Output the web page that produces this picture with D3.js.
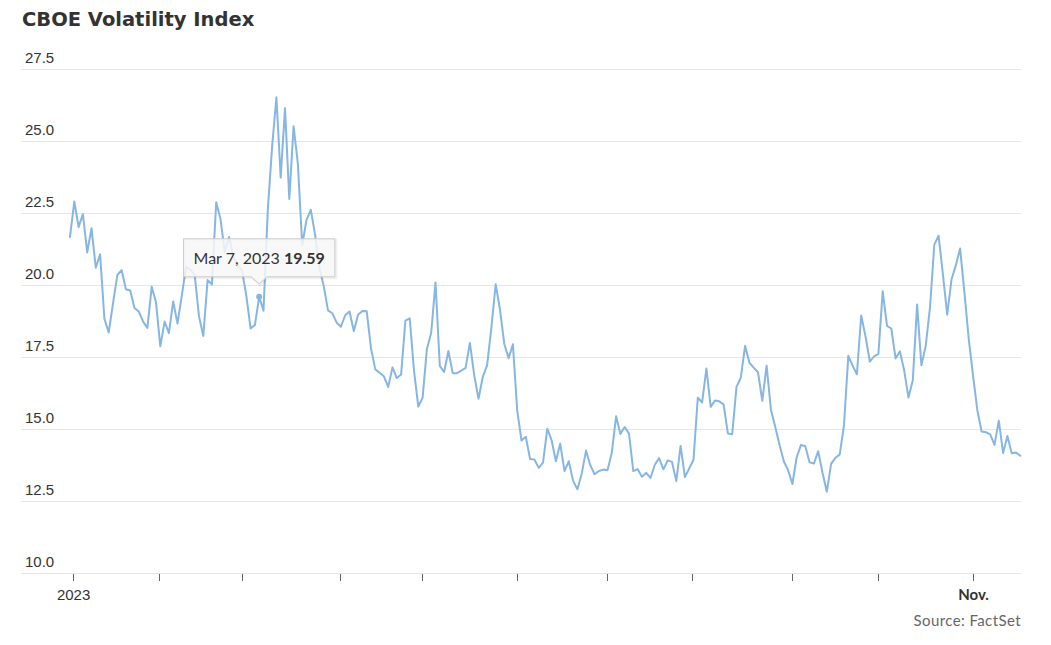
<!DOCTYPE html>
<html>
<head>
<meta charset="utf-8">
<script src="https://cdn.jsdelivr.net/npm/d3@7"></script>
<style>
  html, body { margin: 0; padding: 0; background: #fff; }
  svg { display: block; }
</style>
</head>
<body>
<svg id="chart" width="1051" height="645"></svg>
<script>
// ---- Data (daily closes, Dec 30 2022 .. Nov 16 2023) ----
const vixValues = [
  21.67, 22.90, 22.01, 22.46, 21.13, 21.97, 20.60, 21.07, 18.83, 18.35,
  19.36, 20.34, 20.52, 19.85, 19.81, 19.20, 19.08, 18.73, 18.51, 19.94,
  19.40, 17.87, 18.73, 18.33, 19.43, 18.66, 19.63, 20.63, 20.53, 20.34,
  18.91, 18.23, 20.17, 20.02, 22.87, 22.29, 21.14, 21.67, 20.95, 20.70,
  20.50, 19.63, 18.49, 18.61, 19.59, 19.11, 22.61, 24.80, 26.52, 23.73,
  26.14, 22.99, 25.51, 24.20, 21.38, 22.26, 22.61, 21.74, 20.60, 19.97,
  19.12, 19.02, 18.70, 18.55, 18.95, 19.08, 18.40, 18.97, 19.10, 19.09,
  17.80, 17.07, 16.95, 16.83, 16.46, 17.14, 16.77, 16.89, 18.76, 18.84,
  17.03, 15.78, 16.08, 17.78, 18.34, 20.09, 17.19, 16.98, 17.71, 16.94,
  16.94, 17.03, 17.12, 17.99, 16.87, 16.05, 16.81, 17.21, 18.53, 20.03,
  19.14, 17.95, 17.46, 17.94, 15.65, 14.60, 14.73, 13.96, 13.94, 13.65,
  13.83, 15.01, 14.61, 13.88, 14.50, 13.54, 13.88, 13.20, 12.91, 13.44,
  14.25, 13.74, 13.43, 13.54, 13.59, 13.57, 14.18, 15.44, 14.83, 15.07,
  14.84, 13.54, 13.61, 13.34, 13.48, 13.30, 13.76, 13.99, 13.60, 13.91,
  13.86, 13.19, 14.41, 13.33, 13.63, 13.93, 16.09, 15.92, 17.10, 15.77,
  15.99, 15.96, 15.85, 14.84, 14.82, 16.46, 16.78, 17.89, 17.30, 17.13,
  16.97, 15.98, 17.20, 15.68, 15.08, 14.45, 13.88, 13.57, 13.09, 14.02,
  14.45, 14.40, 13.84, 13.80, 14.23, 13.48, 12.82, 13.79, 14.00, 14.11,
  15.14, 17.54, 17.20, 16.90, 18.94, 18.22, 17.34, 17.52, 17.61, 19.78,
  18.58, 18.49, 17.45, 17.70, 17.03, 16.09, 16.69, 19.32, 17.21, 17.88,
  19.22, 21.40, 21.71, 20.37, 18.97, 20.19, 20.68, 21.27, 19.75, 18.14,
  16.87, 15.66, 14.91, 14.89, 14.81, 14.45, 15.29, 14.17, 14.76, 14.16,
  14.18, 14.07
];

// Month boundaries, expressed as positions along the trading-day index
const monthTickIndex = [0.6, 20.7, 39.9, 62.8, 81.8, 103.9, 124.8, 144.7, 167.8, 187.8, 209.9];
const monthTickLabels = ["2023", "", "", "", "", "", "", "", "", "", "Nov."];

const yTicks = [10, 12.5, 15, 17.5, 20, 22.5, 25, 27.5];

const tooltipIndex = 44;
const tooltipDate = "Mar 7, 2023";

const titleText = "CBOE Volatility Index";
const sourceText = "Source: FactSet";

// ---- Layout ----
const svg = d3.select("#chart");
const plotLeft = 21, plotRight = 1021;
const lineLeft = 70, lineRight = 1020.3;
const yTop = 69, yBottom = 573;

const x = d3.scaleLinear().domain([0, vixValues.length - 1]).range([lineLeft, lineRight]);
const y = d3.scaleLinear().domain([10, 27.5]).range([yBottom, yTop]);

const lineColor = "#86b6e3";

// Title
svg.append("text")
  .attr("x", 22).attr("y", 26)
  .attr("font-family", "'DejaVu Sans', sans-serif")
  .attr("font-weight", "bold")
  .attr("font-size", 19.5)
  .attr("fill", "#333")
  .text(titleText);

// Gridlines + y labels
const yAxisG = svg.append("g").attr("class", "y-axis");
yAxisG.selectAll("line.grid")
  .data(yTicks)
  .join("line")
  .attr("class", "grid")
  .attr("x1", plotLeft).attr("x2", plotRight)
  .attr("y1", d => Math.round(y(d)) + 0.5).attr("y2", d => Math.round(y(d)) + 0.5)
  .attr("stroke", "#e6e6e6")
  .attr("stroke-width", 1);

yAxisG.selectAll("text")
  .data(yTicks)
  .join("text")
  .attr("x", 25)
  .attr("y", d => y(d) - 6)
  .attr("font-family", "'Liberation Sans', Arial, sans-serif")
  .attr("font-size", 15)
  .attr("fill", "#333")
  .text(d => d3.format(".1f")(d));

// X axis ticks
const xAxisG = svg.append("g").attr("class", "x-axis");
xAxisG.selectAll("line.tick")
  .data(monthTickIndex)
  .join("line")
  .attr("class", "tick")
  .attr("x1", d => Math.round(x(d)) + 0.5).attr("x2", d => Math.round(x(d)) + 0.5)
  .attr("y1", yBottom + 1).attr("y2", yBottom + 8)
  .attr("stroke", "#666")
  .attr("stroke-width", 1);

xAxisG.selectAll("text")
  .data(monthTickIndex.map((d, i) => ({ pos: d, label: monthTickLabels[i] })).filter(d => d.label))
  .join("text")
  .attr("x", d => x(d.pos) + 1)
  .attr("y", 600)
  .attr("text-anchor", "middle")
  .attr("font-family", d => d.label === "Nov." ? "Lato, sans-serif" : "'Liberation Sans', Arial, sans-serif")
  .attr("font-weight", d => d.label === "Nov." ? "bold" : "normal")
  .attr("font-size", 15)
  .attr("fill", "#333")
  .text(d => d.label);

// Line
const line = d3.line()
  .x((d, i) => x(i))
  .y(d => y(d));

svg.append("path")
  .datum(vixValues)
  .attr("fill", "none")
  .attr("stroke", lineColor)
  .attr("stroke-width", 2)
  .attr("stroke-linejoin", "round")
  .attr("stroke-linecap", "round")
  .attr("d", line);

// Hover marker
const px = x(tooltipIndex), py = y(vixValues[tooltipIndex]);
svg.append("circle")
  .attr("cx", px).attr("cy", py).attr("r", 3)
  .attr("fill", lineColor);

// Tooltip
const tip = svg.append("g").attr("class", "tooltip");
const tipText = tip.append("text")
  .attr("font-family", "Lato, sans-serif")
  .attr("font-size", 16)
  .attr("fill", "#333");
tipText.append("tspan").text(tooltipDate + " ");
tipText.append("tspan").attr("font-weight", "bold").text(d3.format(".2f")(vixValues[tooltipIndex]));

const tw = tipText.node().getComputedTextLength();
const padX = 10;
const boxW = tw + padX * 2;
const boxH = 38;
const boxBottom = py - 20;
const boxTop = boxBottom - boxH;
const boxLeft = px - boxW / 2;
const arrowW = 8, arrowH = 7;

const tipPath = `M${boxLeft},${boxTop} H${boxLeft + boxW} V${boxBottom} H${px + arrowW} L${px},${boxBottom + arrowH} L${px - arrowW},${boxBottom} H${boxLeft} Z`;

tip.insert("path", "text")
  .attr("d", tipPath)
  .attr("transform", "translate(1,1)")
  .attr("fill", "none")
  .attr("stroke", "rgba(0,0,0,0.06)")
  .attr("stroke-width", 3);
tip.insert("path", "text")
  .attr("d", tipPath)
  .attr("fill", "rgba(247,247,247,0.85)")
  .attr("stroke", "#cccccc")
  .attr("stroke-width", 1);

tipText.attr("x", boxLeft + padX).attr("y", boxTop + 25);

// Source
svg.append("text")
  .attr("x", plotRight).attr("y", 626)
  .attr("text-anchor", "end")
  .attr("font-family", "Lato, sans-serif")
  .attr("font-size", 15)
  .attr("letter-spacing", 0.4)
  .attr("fill", "#666")
  .text(sourceText);
</script>
</body>
</html>
